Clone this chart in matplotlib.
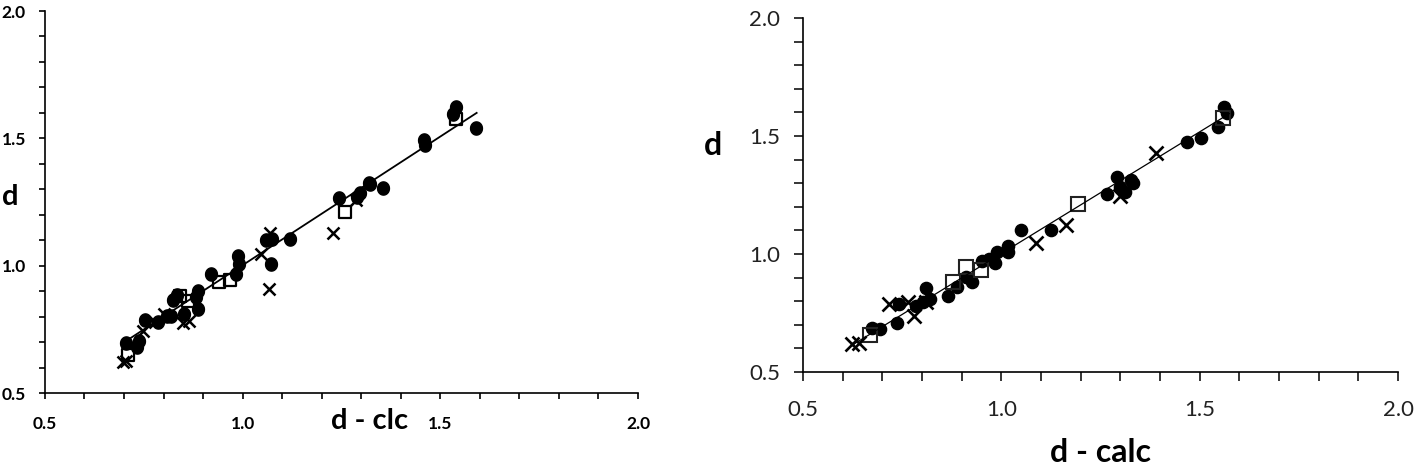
import numpy as np
import matplotlib
matplotlib.use("Agg")
import matplotlib.pyplot as plt
from matplotlib.path import Path
from matplotlib.ticker import MultipleLocator

# ---- left panel: d vs d - clc ----
left_circ_x = [1.541, 1.533, 1.590, 1.459, 1.461, 1.319, 1.323, 1.356, 1.297, 1.290,
               1.245, 1.119, 1.059, 1.075, 1.071, 0.988, 0.991, 0.984, 0.920, 0.888,
               0.883, 0.888, 0.824, 0.834, 0.852, 0.818, 0.808, 0.754, 0.786, 0.704,
               0.733, 0.738]
left_circ_y = [1.623, 1.597, 1.540, 1.492, 1.475, 1.324, 1.319, 1.304, 1.286, 1.269,
               1.266, 1.105, 1.099, 1.104, 1.007, 1.037, 1.007, 0.968, 0.968, 0.902,
               0.876, 0.828, 0.867, 0.883, 0.810, 0.804, 0.804, 0.787, 0.778, 0.697,
               0.680, 0.706]
left_sq_x = [1.541, 1.258, 0.939, 0.968, 0.842, 0.862, 0.711]
left_sq_y = [1.577, 1.210, 0.935, 0.942, 0.882, 0.860, 0.651]
left_x_x = [1.070, 1.228, 1.066, 1.046, 1.288, 0.864, 0.850, 0.801, 0.778, 0.748, 0.697, 0.704]
left_x_y = [1.128, 1.129, 0.909, 1.046, 1.256, 0.782, 0.774, 0.810, 0.778, 0.745, 0.621, 0.627]
left_trend_x = [0.697, 1.592]
left_trend_y = [0.696, 1.600]

# ---- right panel: d vs d - calc ----
right_circ_x = [1.562, 1.568, 1.545, 1.503, 1.467, 1.327, 1.332, 1.292, 1.298, 1.313,
                1.266, 1.125, 1.050, 1.018, 1.016, 0.990, 0.985, 0.970, 0.951, 0.926,
                0.912, 0.889, 0.866, 0.809, 0.820, 0.803, 0.742, 0.736, 0.673, 0.693,
                0.786]
right_circ_y = [1.624, 1.599, 1.539, 1.493, 1.475, 1.312, 1.301, 1.327, 1.284, 1.263,
                1.253, 1.100, 1.100, 1.032, 1.008, 1.008, 0.964, 0.979, 0.972, 0.880,
                0.901, 0.859, 0.823, 0.856, 0.809, 0.795, 0.788, 0.706, 0.686, 0.681,
                0.781]
right_sq_x = [1.560, 1.192, 0.910, 0.949, 0.878, 0.668]
right_sq_y = [1.575, 1.213, 0.944, 0.932, 0.880, 0.656]
right_x_x = [1.390, 1.298, 1.163, 1.087, 0.716, 0.765, 0.780, 0.809, 0.624, 0.642]
right_x_y = [1.426, 1.244, 1.121, 1.046, 0.788, 0.795, 0.738, 0.795, 0.618, 0.625]
right_trend_x = [0.625, 1.575]
right_trend_y = [0.615, 1.595]

# slightly tall markers for the squeezed left panel
t = np.linspace(0, 2 * np.pi, 64)
ellipse = Path(np.column_stack([0.9 * np.cos(t), np.sin(t)]), closed=True)
tall_sq = Path([(-0.45, -0.5), (0.45, -0.5), (0.45, 0.5), (-0.45, 0.5), (-0.45, -0.5)], closed=True)

fig = plt.figure(figsize=(14.18, 4.69), dpi=100)
ax1 = fig.add_axes([0.0317, 0.1620, 0.4182, 0.8145])
ax2 = fig.add_axes([0.5663, 0.2068, 0.4196, 0.7548])

# left
ax1.plot(left_circ_x, left_circ_y, ls='none', marker=ellipse, ms=9.5, color='black', zorder=2)
ax1.plot(left_sq_x, left_sq_y, ls='none', marker=tall_sq, ms=8.8, mfc='none', mec='black', mew=1.6, zorder=3)
ax1.plot(left_x_x, left_x_y, ls='none', marker='x', ms=8.5, mec='black', mew=1.8, zorder=3)
ax1.plot(left_trend_x, left_trend_y, color='black', lw=1.3, zorder=4)

# right
ax2.plot(right_circ_x, right_circ_y, ls='none', marker='o', ms=8.8, color='black', zorder=2)
ax2.plot(right_sq_x, right_sq_y, ls='none', marker='s', ms=10.5, mfc='none', mec='#222222', mew=1.5, zorder=3)
ax2.plot(right_x_x, right_x_y, ls='none', marker='x', ms=10.5, mec='black', mew=1.9, zorder=3)
ax2.plot(right_trend_x, right_trend_y, color='black', lw=0.9, zorder=4)

for ax in (ax1, ax2):
    ax.set_xlim(0.5, 2.0)
    ax.set_ylim(0.5, 2.0)
    ax.xaxis.set_major_locator(MultipleLocator(0.5))
    ax.yaxis.set_major_locator(MultipleLocator(0.5))
    ax.xaxis.set_minor_locator(MultipleLocator(0.1))
    ax.yaxis.set_minor_locator(MultipleLocator(0.1))
    ax.xaxis.set_major_formatter('{x:.1f}')
    ax.yaxis.set_major_formatter('{x:.1f}')
    ax.spines['top'].set_visible(False)
    ax.spines['right'].set_visible(False)
    for s in ('left', 'bottom'):
        ax.spines[s].set_linewidth(1.2)

ax1.tick_params(which='both', direction='out', length=4.3, width=1.2)
ax1.tick_params(axis='x', pad=12)
ax1.tick_params(axis='y', pad=9.5)
for lab in ax1.get_xticklabels() + ax1.get_yticklabels():
    lab.set_fontfamily('Lato')
    lab.set_fontweight('bold')
    lab.set_fontsize(12.5)

ax2.tick_params(which='both', direction='out', length=6.3, width=1.1)
ax2.tick_params(axis='x', pad=14)
ax2.tick_params(axis='y', pad=10)
for lab in ax2.get_xticklabels() + ax2.get_yticklabels():
    lab.set_fontfamily('Lato')
    lab.set_fontsize(16)
    lab.set_color('#222222')

narrow = ['Liberation Sans Narrow', 'Lato']
ax1.text(0.547, -0.073, 'd - clc', transform=ax1.transAxes, ha='center', va='center',
         fontsize=21, fontweight='bold', family=narrow)
ax1.text(-0.059, 0.513, 'd', transform=ax1.transAxes, ha='center', va='center',
         fontsize=21, fontweight='bold', family=narrow)

ax2.text(0.5, -0.226, 'd - calc', transform=ax2.transAxes, ha='center', va='center',
         fontsize=23, fontweight='bold', family='Lato')
ax2.text(-0.151, 0.641, 'd', transform=ax2.transAxes, ha='center', va='center',
         fontsize=23, fontweight='bold', family='Lato')

fig.savefig('out.png', dpi=100)
